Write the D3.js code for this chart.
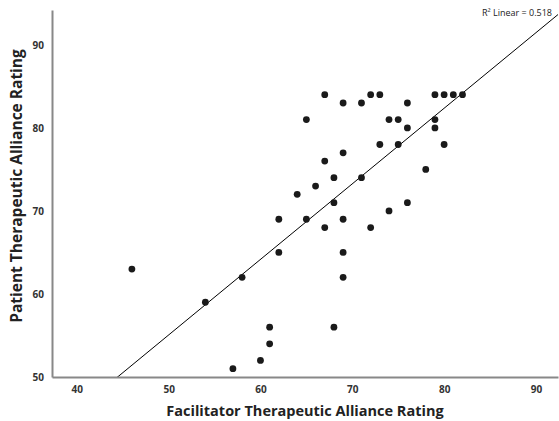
<!DOCTYPE html>
<html>
<head>
<meta charset="utf-8">
<script src="https://cdn.jsdelivr.net/npm/d3@7"></script>
<style>
  html, body { margin: 0; padding: 0; background: #fff; }
  svg { display: block; font-family: "Open Sans", "DejaVu Sans", sans-serif; }
</style>
</head>
<body>
<svg id="chart" width="559" height="421"></svg>
<script>
// ========= Data =========
const facilitator = [46, 54, 58, 57, 60, 61, 61, 62, 62, 64, 65, 66, 67, 67, 68, 68, 68, 69, 69, 69, 69,
  72, 74, 76, 71, 78, 65, 67, 69, 71, 72, 73, 76, 79, 80, 81, 82, 74, 75, 79, 76, 79, 73, 75, 80];
const patient = [63, 59, 62, 51, 52, 54, 56, 65, 69, 72, 69, 73, 76, 68, 71, 74, 56, 69, 65, 62, 77,
  68, 70, 71, 74, 75, 81, 84, 83, 83, 84, 84, 83, 84, 84, 84, 84, 81, 81, 81, 80, 80, 78, 78, 78];
const xTicks = [40, 50, 60, 70, 80, 90];
const yTicks = [50, 60, 70, 80, 90];
const rSquaredLabel = "R² Linear = 0.518";

// ========= Layout =========
const svg = d3.select("#chart");
const margin = { top: 10, right: 1, bottom: 44, left: 52 };
const width = 559, height = 421;
const innerW = width - margin.left - margin.right;
const innerH = height - margin.top - margin.bottom;

const x = d3.scaleLinear().domain([37.3, 92.4]).range([0, innerW]);
const y = d3.scaleLinear().domain([50, 94.2]).range([innerH, 0]);

const g = svg.append("g").attr("transform", `translate(${margin.left},${margin.top})`);

svg.append("defs").append("clipPath").attr("id", "plotClip")
  .append("rect").attr("width", innerW).attr("height", innerH);

// ========= Fit line (least squares) =========
const mx = d3.mean(facilitator), my = d3.mean(patient);
let sxy = 0, sxx = 0;
facilitator.forEach((v, i) => { sxy += (v - mx) * (patient[i] - my); sxx += (v - mx) ** 2; });
const slope = sxy / sxx;
const intercept = my - slope * mx;
const xDom = x.domain();

g.append("line")
  .attr("clip-path", "url(#plotClip)")
  .attr("x1", x(xDom[0])).attr("y1", y(intercept + slope * xDom[0]))
  .attr("x2", x(xDom[1])).attr("y2", y(intercept + slope * xDom[1]))
  .attr("stroke", "#000").attr("stroke-width", 1);

// ========= Points =========
g.selectAll("circle")
  .data(facilitator.map((v, i) => ({ fx: v, py: patient[i] })))
  .join("circle")
  .attr("cx", d => x(d.fx))
  .attr("cy", d => y(d.py))
  .attr("r", 3.4)
  .attr("fill", "#1a1a1a");

// ========= Axes =========
const xAxis = g.append("g")
  .attr("transform", `translate(0,${innerH})`)
  .call(d3.axisBottom(x).tickValues(xTicks).tickSize(0).tickPadding(9));
const yAxis = g.append("g")
  .call(d3.axisLeft(y).tickValues(yTicks).tickSize(0).tickPadding(8));

[xAxis, yAxis].forEach(a => {
  a.select(".domain").attr("stroke", "#888").attr("stroke-width", 2);
  a.selectAll("text")
    .attr("font-size", 10).attr("font-weight", "bold").attr("fill", "#333")
    .attr("font-family", "\"Open Sans\", sans-serif");
});

// ========= Labels =========
svg.append("text")
  .attr("x", margin.left + innerW / 2).attr("y", 416)
  .attr("text-anchor", "middle")
  .attr("font-size", 14.5).attr("font-weight", "bold").attr("fill", "#222")
  .text("Facilitator Therapeutic Alliance Rating");

svg.append("text")
  .attr("transform", `translate(22,186) rotate(-90)`)
  .attr("text-anchor", "middle")
  .attr("font-size", 15.5).attr("font-weight", "bold").attr("fill", "#222")
  .text("Patient Therapeutic Alliance Rating");

svg.append("text")
  .attr("x", 552).attr("y", 16)
  .attr("text-anchor", "end")
  .attr("font-size", 9).attr("fill", "#222")
  .text(rSquaredLabel);
</script>
</body>
</html>
